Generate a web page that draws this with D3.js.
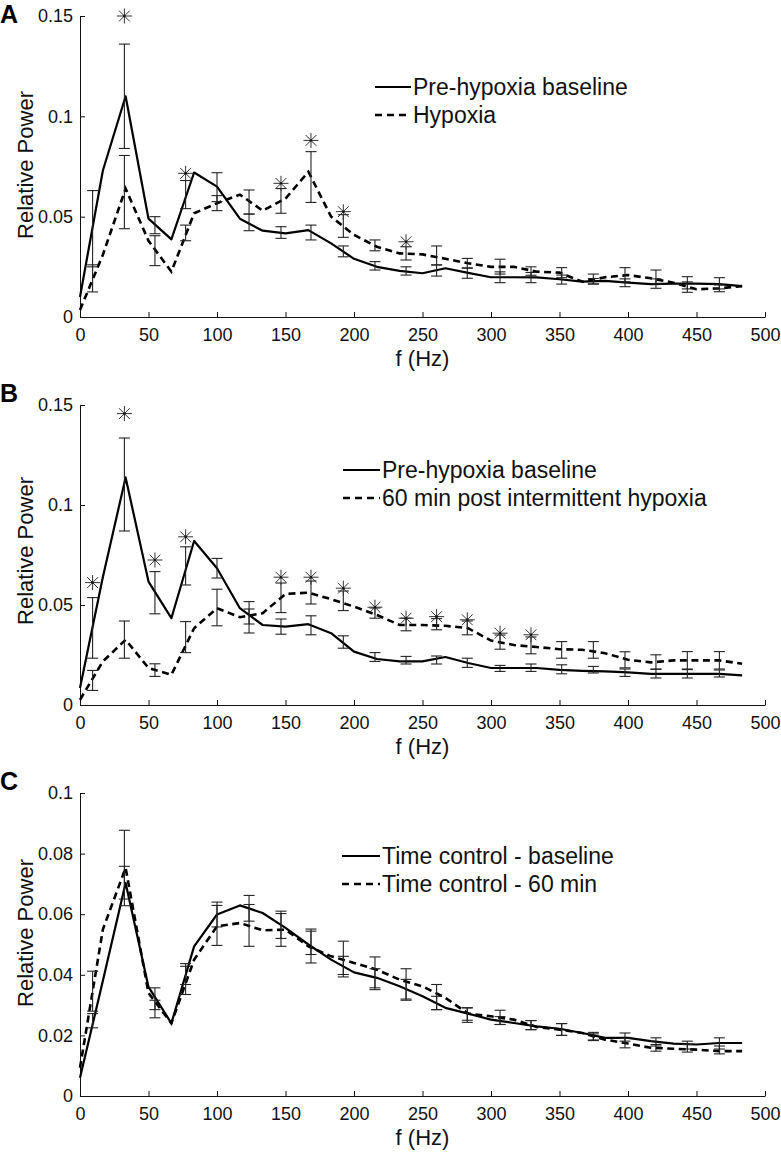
<!DOCTYPE html>
<html><head><meta charset="utf-8">
<script src="https://cdn.jsdelivr.net/npm/d3@7"></script>
<style>body{margin:0;background:#fff} text{font-family:"Liberation Sans",Arial,Helvetica,sans-serif}</style>
</head><body><svg id="c" width="781" height="1153"></svg>
<script>
// ---------- DATA ----------
const freq = [0,16.7,33.3,50,66.7,83.3,100,116.7,133.3,150,166.7,183.3,200,216.7,233.3,250,266.7,283.3,300,316.7,333.3,350,366.7,383.3,400,416.7,433.3,450,466.7,483.3];
const errFreq = [9.2,32.4,54.7,77.1,100,123.4,146.7,168.6,192.2,215.3,238,260.3,282.7,306.6,329.2,351.6,374.7,397.8,420.4,443.3,466.7];
const xTicks = [0,50,100,150,200,250,300,350,400,450,500];

// Panel A
const aBase = [0.010,0.073,0.110,0.049,0.0387,0.072,0.065,0.049,0.043,0.0417,0.0433,0.0367,0.029,0.025,0.023,0.0218,0.0243,0.022,0.0198,0.0198,0.0197,0.0188,0.0176,0.018,0.0171,0.0164,0.0166,0.0166,0.0164,0.0154];
const aHyp = [0.0035,0.031,0.064,0.038,0.0226,0.0517,0.0567,0.061,0.053,0.059,0.0724,0.050,0.0409,0.035,0.0317,0.0312,0.029,0.0268,0.025,0.025,0.0226,0.0221,0.0176,0.0198,0.0209,0.0193,0.0171,0.0138,0.0143,0.0154];
const aBaseLo = [0.025,0.084,0.0415,0.054,0.0575,0.043,0.0392,0.0384,0.030,0.0234,0.0209,0.0204,0.0193,0.0171,0.0171,0.0164,0.0164,0.0151,0.0143,0.014,0.014];
const aBaseHi = [0.063,0.136,0.050,0.068,0.0719,0.0513,0.045,0.0458,0.0354,0.0276,0.025,0.026,0.0245,0.0225,0.0222,0.0209,0.0192,0.019,0.019,0.0201,0.0196];
const aHypLo = [0.0125,0.044,0.0256,0.038,0.053,0.0513,0.0517,0.0571,0.0397,0.033,0.0284,0.0259,0.0243,0.0214,0.0208,0.0196,0.0165,0.0175,0.0165,0.0123,0.0126];
const aHypHi = [0.026,0.0805,0.0405,0.0458,0.0605,0.0633,0.064,0.0824,0.051,0.0384,0.035,0.0354,0.0292,0.0288,0.025,0.0246,0.0214,0.0246,0.0234,0.0175,0.016];
const aStarF = [32.4,77.1,146.7,168.6,192.2,238];
const aStarV = [0.15,0.0716,0.0666,0.088,0.0525,0.0375];
const aYTicks = [0,0.05,0.1,0.15];
const aLegend = ["Pre-hypoxia baseline","Hypoxia"];

// Panel B
const bBase = [0.0085,0.064,0.1138,0.0617,0.0434,0.082,0.0684,0.0484,0.040,0.0392,0.0404,0.0359,0.0267,0.023,0.0218,0.0218,0.024,0.021,0.0185,0.0185,0.0185,0.0176,0.0171,0.0168,0.0163,0.0156,0.0156,0.0156,0.0156,0.0148];
const bPost = [0.0026,0.0218,0.0326,0.0185,0.0151,0.0384,0.0484,0.0439,0.0459,0.0555,0.0562,0.0529,0.0492,0.045,0.040,0.040,0.0396,0.0384,0.0322,0.030,0.029,0.0279,0.0276,0.0259,0.0226,0.0213,0.0223,0.0223,0.0223,0.0206];
const bBaseLo = [0.0234,0.087,0.0456,0.060,0.0635,0.0405,0.0354,0.0351,0.0284,0.0218,0.0205,0.0205,0.0188,0.0168,0.0168,0.0156,0.016,0.0143,0.0135,0.0135,0.014];
const bBaseHi = [0.0537,0.1335,0.0667,0.0791,0.0733,0.0517,0.043,0.0446,0.0346,0.0262,0.0243,0.0245,0.0234,0.0198,0.0205,0.0201,0.0193,0.018,0.0178,0.0177,0.0175];
const bPostLo = [0.0073,0.0234,0.0143,0.0262,0.0396,0.036,0.0462,0.0505,0.0472,0.0434,0.0371,0.0376,0.0351,0.0279,0.0256,0.0234,0.0234,0.0186,0.018,0.018,0.018];
const bPostHi = [0.0173,0.042,0.0206,0.0417,0.0579,0.048,0.061,0.062,0.057,0.0485,0.0434,0.0432,0.042,0.035,0.034,0.0317,0.0317,0.0266,0.0251,0.0267,0.0267];
const bStarF = [9.2,32.4,54.7,77.1,146.7,168.6,192.2,215.3,238,260.3,282.7,306.6,329.2];
const bStarV = [0.0612,0.1457,0.0725,0.0841,0.0639,0.0639,0.0584,0.0489,0.0434,0.0442,0.0426,0.0359,0.0351];
const bYTicks = [0,0.05,0.1,0.15];
const bLegend = ["Pre-hypoxia baseline","60 min post intermittent hypoxia"];

// Panel C
const cBase = [0.006,0.038,0.0703,0.036,0.024,0.0494,0.0599,0.0629,0.0604,0.0555,0.050,0.045,0.0408,0.039,0.0362,0.0329,0.0291,0.0272,0.0252,0.0241,0.023,0.0222,0.0208,0.0192,0.0192,0.0181,0.0173,0.017,0.0175,0.0175];
const cPost = [0.0093,0.055,0.0753,0.034,0.024,0.045,0.056,0.0571,0.0547,0.0549,0.0494,0.0461,0.0439,0.0417,0.0384,0.0362,0.0324,0.0272,0.0263,0.0252,0.0228,0.0219,0.0208,0.0186,0.0173,0.0159,0.0156,0.0153,0.0148,0.0148];
const cBaseLo = [0.0225,0.065,0.0285,0.0368,0.0558,0.0577,0.052,0.0439,0.0393,0.0351,0.0316,0.0285,0.0243,0.0236,0.0219,0.020,0.0185,0.0181,0.0165,0.0155,0.0155];
const cBaseHi = [0.0272,0.0758,0.0357,0.0437,0.064,0.0662,0.061,0.0551,0.0461,0.042,0.0385,0.0329,0.0291,0.0262,0.0249,0.0239,0.021,0.0208,0.0192,0.0181,0.0192];
const cPostLo = [0.028,0.0628,0.0258,0.0335,0.0497,0.0494,0.0494,0.0467,0.0401,0.0357,0.032,0.0285,0.025,0.0236,0.0219,0.020,0.0183,0.0159,0.0148,0.0145,0.0139];
const cPostHi = [0.0412,0.0877,0.0316,0.0428,0.0629,0.0632,0.0602,0.0544,0.0511,0.0459,0.042,0.0368,0.0291,0.0283,0.0249,0.0239,0.0205,0.019,0.017,0.017,0.0165];
const cStarF = [];
const cStarV = [];
const cYTicks = [0,0.02,0.04,0.06,0.08,0.1];
const cLegend = ["Time control - baseline","Time control - 60 min"];

// ---------- LAYOUT ----------
const panels = [
  {letter:"A", letterY:23, y0:317, y1:16, yMax:0.15, yTicks:aYTicks, s1:aBase, s2:aHyp, lo1:aBaseLo, hi1:aBaseHi, lo2:aHypLo, hi2:aHypHi, starF:aStarF, starV:aStarV, legend:aLegend, legX:375, legTX:413, legY:87, ylabY:165},
  {letter:"B", letterY:402, y0:705, y1:405, yMax:0.15, yTicks:bYTicks, s1:bBase, s2:bPost, lo1:bBaseLo, hi1:bBaseHi, lo2:bPostLo, hi2:bPostHi, starF:bStarF, starV:bStarV, legend:bLegend, legX:343, legTX:382, legY:470, ylabY:551},
  {letter:"C", letterY:790, y0:1096, y1:793, yMax:0.1, yTicks:cYTicks, s1:cBase, s2:cPost, lo1:cBaseLo, hi1:cBaseHi, lo2:cPostLo, hi2:cPostHi, starF:cStarF, starV:cStarV, legend:cLegend, legX:342, legTX:382, legY:856, ylabY:933}
];

const svg = d3.select("#c");
svg.append("rect").attr("width",781).attr("height",1153).attr("fill","#fff");
const x = d3.scaleLinear().domain([0,500]).range([80,765]);
const fmtY = d => d === 0 ? "0" : String(+d.toFixed(3));

panels.forEach(p => {
  const y = d3.scaleLinear().domain([0,p.yMax]).range([p.y0,p.y1]);
  const g = svg.append("g");

  // axes
  const xa = g.append("g").attr("transform",`translate(0,${p.y0})`)
    .call(d3.axisBottom(x).tickValues(xTicks).tickSize(-5).tickSizeOuter(0).tickPadding(11).tickFormat(d3.format("d")));
  const ya = g.append("g").attr("transform",`translate(80,0)`)
    .call(d3.axisLeft(y).tickValues(p.yTicks).tickSize(-5).tickSizeOuter(0).tickPadding(7).tickFormat(fmtY));
  [xa,ya].forEach(a => {
    a.selectAll("path,line").attr("stroke","#111").attr("stroke-width",1);
    a.selectAll("text").attr("font-size",18).attr("fill","#111").attr("font-family","Liberation Sans, Arial, sans-serif");
  });

  // labels
  g.append("text").attr("x",422.5).attr("y",p.y0+49).attr("text-anchor","middle")
    .attr("font-size",22).attr("fill","#111").text("f (Hz)");
  g.append("text").attr("transform",`translate(33,${p.ylabY}) rotate(-90)`).attr("text-anchor","middle")
    .attr("font-size",22).attr("fill","#111").text("Relative Power");
  g.append("text").attr("x",0).attr("y",p.letterY).attr("font-size",25).attr("font-weight","bold")
    .attr("fill","#000").text(p.letter);

  // lines
  const line = d3.line().x((d,i)=>x(freq[i])).y(d=>y(d));
  g.append("path").attr("d",line(p.s1)).attr("fill","none").attr("stroke","#000").attr("stroke-width",2.2).attr("stroke-linejoin","round");
  g.append("path").attr("d",line(p.s2)).attr("fill","none").attr("stroke","#000").attr("stroke-width",2.6).attr("stroke-dasharray","7,4.5");

  // error bars
  const eg = g.append("g").attr("stroke","#222").attr("stroke-width",1.1);
  const drawErr = (lo,hi) => {
    errFreq.forEach((f,i) => {
      const xx = x(f), yl = y(lo[i]), yh = y(hi[i]);
      eg.append("line").attr("x1",xx).attr("x2",xx).attr("y1",yl).attr("y2",yh);
      eg.append("line").attr("x1",xx-5.5).attr("x2",xx+5.5).attr("y1",yl).attr("y2",yl);
      eg.append("line").attr("x1",xx-5.5).attr("x2",xx+5.5).attr("y1",yh).attr("y2",yh);
    });
  };
  drawErr(p.lo1,p.hi1);
  drawErr(p.lo2,p.hi2);

  // stars
  p.starF.forEach((f,i) => {
    const cx = x(f), cy = y(p.starV[i]), r = 7.5, d = r*0.72;
    g.append("path").attr("d",`M${cx-r},${cy}H${cx+r}M${cx},${cy-r}V${cy+r}M${cx-d},${cy-d}L${cx+d},${cy+d}M${cx-d},${cy+d}L${cx+d},${cy-d}`)
      .attr("stroke","#333").attr("stroke-width",1).attr("fill","none");
    g.append("circle").attr("cx",cx).attr("cy",cy).attr("r",1.2).attr("fill","#111");
  });

  // legend
  g.append("line").attr("x1",p.legX).attr("x2",p.legTX-2).attr("y1",p.legY).attr("y2",p.legY)
    .attr("stroke","#000").attr("stroke-width",2.2);
  g.append("line").attr("x1",p.legX).attr("x2",p.legTX-2).attr("y1",p.legY+28).attr("y2",p.legY+28)
    .attr("stroke","#000").attr("stroke-width",2.6).attr("stroke-dasharray","7,5");
  g.append("text").attr("x",p.legTX).attr("y",p.legY+8).attr("font-size",23).attr("fill","#111").text(p.legend[0]);
  g.append("text").attr("x",p.legTX).attr("y",p.legY+36).attr("font-size",23).attr("fill","#111").text(p.legend[1]);
});
</script></body></html>
